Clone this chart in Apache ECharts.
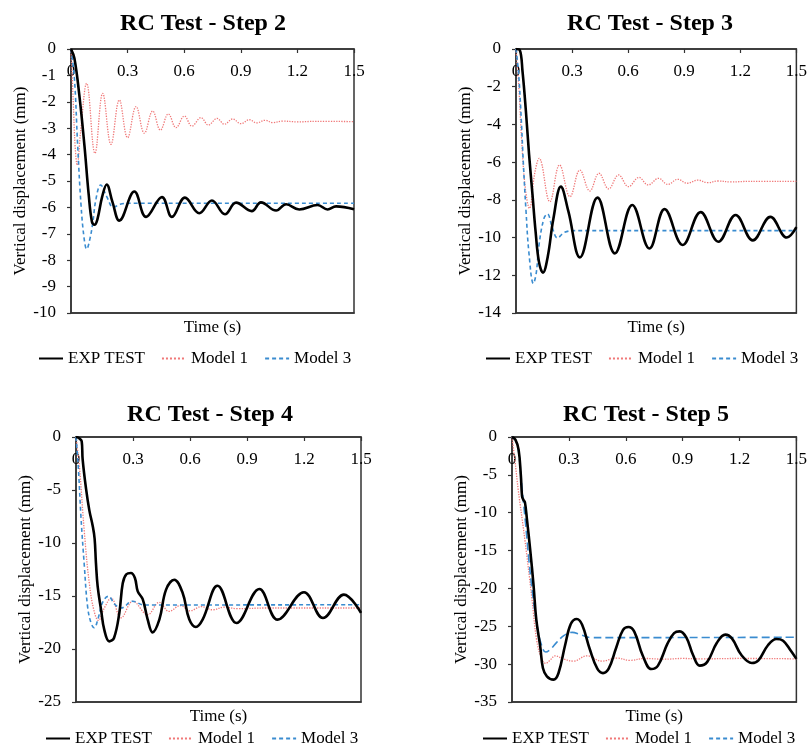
<!DOCTYPE html>
<html><head><meta charset="utf-8">
<script src="https://cdn.jsdelivr.net/npm/echarts/dist/echarts.min.js"></script>
<style>html,body{margin:0;padding:0;background:#fff}#c{width:810px;height:755px}</style>
</head><body><div id="c"></div><script>
// ---------- data ----------
const titles = ['RC Test - Step 2', 'RC Test - Step 3', 'RC Test - Step 4', 'RC Test - Step 5'];
const seriesNames = ['EXP TEST', 'Model 1', 'Model 3'];
const xName = 'Time (s)';
const yName = 'Vertical displacement (mm)';
const xMin = 0, xMax = 1.5, xInterval = 0.3;
const yMins = [-10, -14, -25, -35];
const yIntervals = [1, 2, 5, 5];

// Step 2  [time (s), displacement (mm)]
const exp2 = [[0,0],[0.018,-0.35],[0.044,-1.74],[0.071,-3.64],[0.094,-5.53],[0.111,-6.54],[0.124,-6.66],[0.14,-6.45],[0.165,-5.6],[0.189,-5.13],[0.22,-5.8],[0.256,-6.5],[0.336,-5.4],[0.398,-6.36],[0.482,-5.61],[0.535,-6.36],[0.604,-5.63],[0.68,-6.22],[0.747,-5.74],[0.816,-6.26],[0.875,-5.82],[0.958,-6.14],[1.007,-5.81],[1.087,-6.12],[1.14,-5.88],[1.21,-6.08],[1.307,-5.91],[1.36,-6.08],[1.405,-5.96],[1.5,-6.07]];
const m1_2 = [[0,0],[0.012,-2.0],[0.022,-3.7],[0.033,-4.4],[0.05,-3.2],[0.083,-1.3],[0.127,-3.95],[0.168,-1.68],[0.212,-3.61],[0.256,-1.93],[0.3,-3.36],[0.345,-2.18],[0.389,-3.19],[0.433,-2.35],[0.474,-3.07],[0.516,-2.46],[0.557,-2.98],[0.601,-2.54],[0.641,-2.92],[0.689,-2.6],[0.728,-2.88],[0.774,-2.63],[0.813,-2.85],[0.857,-2.65],[0.901,-2.83],[0.945,-2.68],[0.984,-2.8],[1.03,-2.7],[1.069,-2.79],[1.12,-2.73],[1.2,-2.76],[1.3,-2.74],[1.5,-2.75]];
const m3_2 = [[0,0],[0.018,-1.1],[0.035,-3.6],[0.053,-5.9],[0.07,-7.2],[0.083,-7.58],[0.1,-7.2],[0.115,-6.6],[0.133,-5.66],[0.157,-5.15],[0.19,-5.6],[0.225,-6.0],[0.26,-5.88],[0.32,-5.84],[1.5,-5.84]];

// Step 3
const exp3 = [[0,0],[0.02,-0.05],[0.035,-1.2],[0.053,-3.3],[0.07,-5.6],[0.088,-7.7],[0.105,-9.7],[0.123,-11.3],[0.144,-11.86],[0.17,-11.0],[0.2,-9.0],[0.24,-7.3],[0.28,-8.6],[0.342,-11.05],[0.436,-7.88],[0.529,-10.84],[0.622,-8.27],[0.714,-10.58],[0.795,-8.49],[0.892,-10.39],[0.988,-8.65],[1.083,-10.22],[1.175,-8.8],[1.267,-10.15],[1.361,-8.9],[1.449,-10.0],[1.5,-9.45]];
const m1_3 = [[0,0],[0.015,-2.0],[0.03,-4.8],[0.05,-7.4],[0.072,-8.45],[0.1,-6.6],[0.124,-5.8],[0.181,-8.1],[0.233,-6.15],[0.289,-7.83],[0.342,-6.42],[0.395,-7.53],[0.444,-6.59],[0.496,-7.42],[0.549,-6.68],[0.602,-7.3],[0.658,-6.81],[0.707,-7.21],[0.763,-6.86],[0.812,-7.18],[0.865,-6.91],[0.917,-7.12],[0.973,-6.95],[1.026,-7.09],[1.08,-7.0],[1.15,-7.05],[1.25,-7.02],[1.5,-7.02]];
const m3_3 = [[0,0],[0.013,-1.2],[0.026,-3.3],[0.04,-6.2],[0.053,-8.5],[0.07,-10.9],[0.093,-12.43],[0.108,-11.9],[0.123,-10.4],[0.149,-9.0],[0.168,-8.75],[0.195,-9.5],[0.222,-10.02],[0.26,-9.72],[0.32,-9.63],[1.5,-9.63]];

// Step 4
const exp4 = [[0,0],[0.015,-0.1],[0.03,-0.4],[0.035,-2.1],[0.053,-4.9],[0.07,-6.9],[0.088,-8.4],[0.098,-9.6],[0.105,-11.9],[0.114,-14.1],[0.132,-16.3],[0.149,-18.2],[0.175,-19.28],[0.2,-18.96],[0.228,-16.6],[0.246,-13.8],[0.265,-12.95],[0.289,-12.83],[0.31,-13.3],[0.325,-14.56],[0.351,-15.3],[0.377,-17.2],[0.403,-18.43],[0.439,-17.2],[0.474,-14.4],[0.517,-13.46],[0.561,-14.7],[0.596,-17.2],[0.631,-17.92],[0.667,-17.2],[0.745,-14.03],[0.845,-17.55],[0.965,-14.34],[1.061,-17.23],[1.2,-14.65],[1.3,-17.08],[1.41,-14.87],[1.5,-16.6]];
const m1_4 = [[0,0],[0.018,-2.8],[0.044,-9.0],[0.07,-13.8],[0.095,-16.4],[0.118,-17.3],[0.15,-16.1],[0.185,-15.2],[0.237,-17.05],[0.3,-15.5],[0.377,-16.76],[0.438,-15.6],[0.49,-16.45],[0.55,-15.9],[0.6,-16.4],[0.66,-16.0],[0.72,-16.3],[0.78,-16.05],[0.85,-16.2],[1.0,-16.13],[1.5,-16.13]];
const m3_4 = [[0,0],[0.012,-2.8],[0.026,-7.5],[0.044,-12.2],[0.061,-16.0],[0.08,-17.6],[0.096,-18.0],[0.115,-17.2],[0.14,-15.6],[0.17,-15.03],[0.205,-15.8],[0.237,-16.13],[0.298,-15.5],[0.36,-15.85],[1.5,-15.82]];

// Step 5
const exp5 = [[0,0],[0.018,-0.35],[0.035,-1.7],[0.047,-5.2],[0.053,-7.8],[0.06,-8.3],[0.068,-8.6],[0.079,-10.9],[0.096,-14.9],[0.114,-19.7],[0.128,-24.1],[0.149,-27.7],[0.163,-30.5],[0.184,-31.6],[0.219,-32.05],[0.245,-31.2],[0.28,-27.5],[0.31,-24.7],[0.342,-24.04],[0.37,-24.8],[0.41,-28.0],[0.45,-30.6],[0.48,-31.18],[0.51,-30.6],[0.55,-27.8],[0.585,-25.5],[0.614,-25.1],[0.645,-25.7],[0.69,-28.9],[0.735,-30.65],[0.77,-30.2],[0.82,-27.3],[0.855,-25.9],[0.885,-25.67],[0.92,-26.5],[0.955,-28.8],[0.99,-30.2],[1.03,-29.7],[1.08,-27.2],[1.125,-26.1],[1.16,-26.6],[1.21,-28.8],[1.265,-29.85],[1.3,-29.5],[1.35,-27.5],[1.395,-26.68],[1.43,-26.9],[1.47,-28.2],[1.5,-29.3]];
const m1_5 = [[0,0],[0.015,-3.0],[0.033,-7.0],[0.068,-13.6],[0.104,-21.1],[0.13,-26.8],[0.155,-29.2],[0.178,-29.9],[0.2,-29.5],[0.228,-28.9],[0.27,-29.3],[0.325,-29.6],[0.395,-28.9],[0.474,-29.6],[0.553,-29.2],[0.623,-29.5],[0.7,-29.25],[0.8,-29.35],[0.9,-29.25],[1.0,-29.3],[1.2,-29.25],[1.5,-29.3]];
const m3_5 = [[0,0],[0.02,-0.5],[0.035,-2.0],[0.05,-6.0],[0.07,-11.0],[0.09,-16.5],[0.11,-21.0],[0.13,-24.5],[0.15,-27.0],[0.178,-28.4],[0.2,-28.1],[0.237,-27.1],[0.275,-26.2],[0.318,-25.8],[0.36,-26.1],[0.42,-26.5],[0.5,-26.5],[1.5,-26.45]];

const expData = [exp2, exp3, exp4, exp5];
const m1Data = [m1_2, m1_3, m1_4, m1_5];
const m3Data = [m3_2, m3_3, m3_4, m3_5];

// ---------- layout / styles ----------
const FONT = 'Liberation Serif';
const AX = '#333';
const layout = [
  {grid:{left:71, top:49, width:283, height:264}, tx:203, ty:12,  lx:38,  ly:350},
  {grid:{left:516,top:49, width:285, height:264}, tx:650, ty:12,  lx:485, ly:350},
  {grid:{left:76, top:437,width:285, height:265}, tx:210, ty:403, lx:45,  ly:730},
  {grid:{left:512,top:437,width:285, height:265}, tx:646, ty:403, lx:482, ly:730}
];
const m3Dash = [[4,3],[4,3],[4,3],[8,4]];

const option = {animation:false, backgroundColor:'#fff', title:[], grid:[], xAxis:[], yAxis:[], legend:[], series:[]};
const txt = {fontFamily:FONT, fontSize:17, color:'#000'};

layout.forEach((L, i) => {
  option.title.push({text:titles[i], left:L.tx, top:L.ty, textAlign:'center', padding:0,
    textStyle:{fontFamily:FONT, fontSize:24, fontWeight:'bold', color:'#000'}});
  option.grid.push(Object.assign({show:true, borderColor:AX, borderWidth:1.5, backgroundColor:'transparent'}, L.grid));
  option.xAxis.push({gridIndex:i, type:'value', min:xMin, max:xMax, interval:xInterval, position:'top',
    axisLine:{onZero:false, lineStyle:{color:AX, width:1.5}},
    axisTick:{inside:true, length:4, lineStyle:{color:AX, width:1.2}},
    axisLabel:Object.assign({inside:true, margin:14, showMinLabel:true, showMaxLabel:true}, txt),
    splitLine:{show:false}});
  option.xAxis.push({gridIndex:i, type:'value', min:xMin, max:xMax, position:'bottom',
    axisLine:{onZero:false, lineStyle:{color:AX, width:1.5}},
    axisTick:{show:false}, axisLabel:{show:false}, splitLine:{show:false},
    name:xName, nameLocation:'middle', nameGap:6,
    nameTextStyle:Object.assign({verticalAlign:'top'}, txt)});
  option.yAxis.push({gridIndex:i, type:'value', min:yMins[i], max:0, interval:yIntervals[i],
    axisLine:{show:true, onZero:false, lineStyle:{color:AX, width:1.5}},
    axisTick:{show:true, length:4, lineStyle:{color:AX, width:1.2}},
    axisLabel:Object.assign({margin:15}, txt),
    splitLine:{show:false},
    name:yName, nameLocation:'middle', nameGap:42, nameRotate:90, nameTextStyle:txt});
  option.legend.push({left:L.lx, top:L.ly, padding:0, itemWidth:24, itemHeight:12, itemGap:16,
    selectedMode:false, data:seriesNames, textStyle:txt, itemStyle:{opacity:0}});
  const xi = 2*i;
  option.series.push({type:'line', name:seriesNames[1], xAxisIndex:xi, yAxisIndex:i, data:m1Data[i],
    smooth:0.4, symbol:'none', color:'#f07878', lineStyle:{color:'#f07878', width:1.3, type:'dotted'}, z:2});
  option.series.push({type:'line', name:seriesNames[2], xAxisIndex:xi, yAxisIndex:i, data:m3Data[i],
    smooth:0.4, symbol:'none', color:'#3a8cd0', lineStyle:{color:'#3a8cd0', width:1.6, type:m3Dash[i]}, z:3});
  option.series.push({type:'line', name:seriesNames[0], xAxisIndex:xi, yAxisIndex:i, data:expData[i],
    smooth:0.4, symbol:'none', color:'#000', lineStyle:{color:'#000', width:2.6}, z:4});
});

const chart = echarts.init(document.getElementById('c'), null, {renderer:'canvas'});
chart.setOption(option);
</script></body></html>
